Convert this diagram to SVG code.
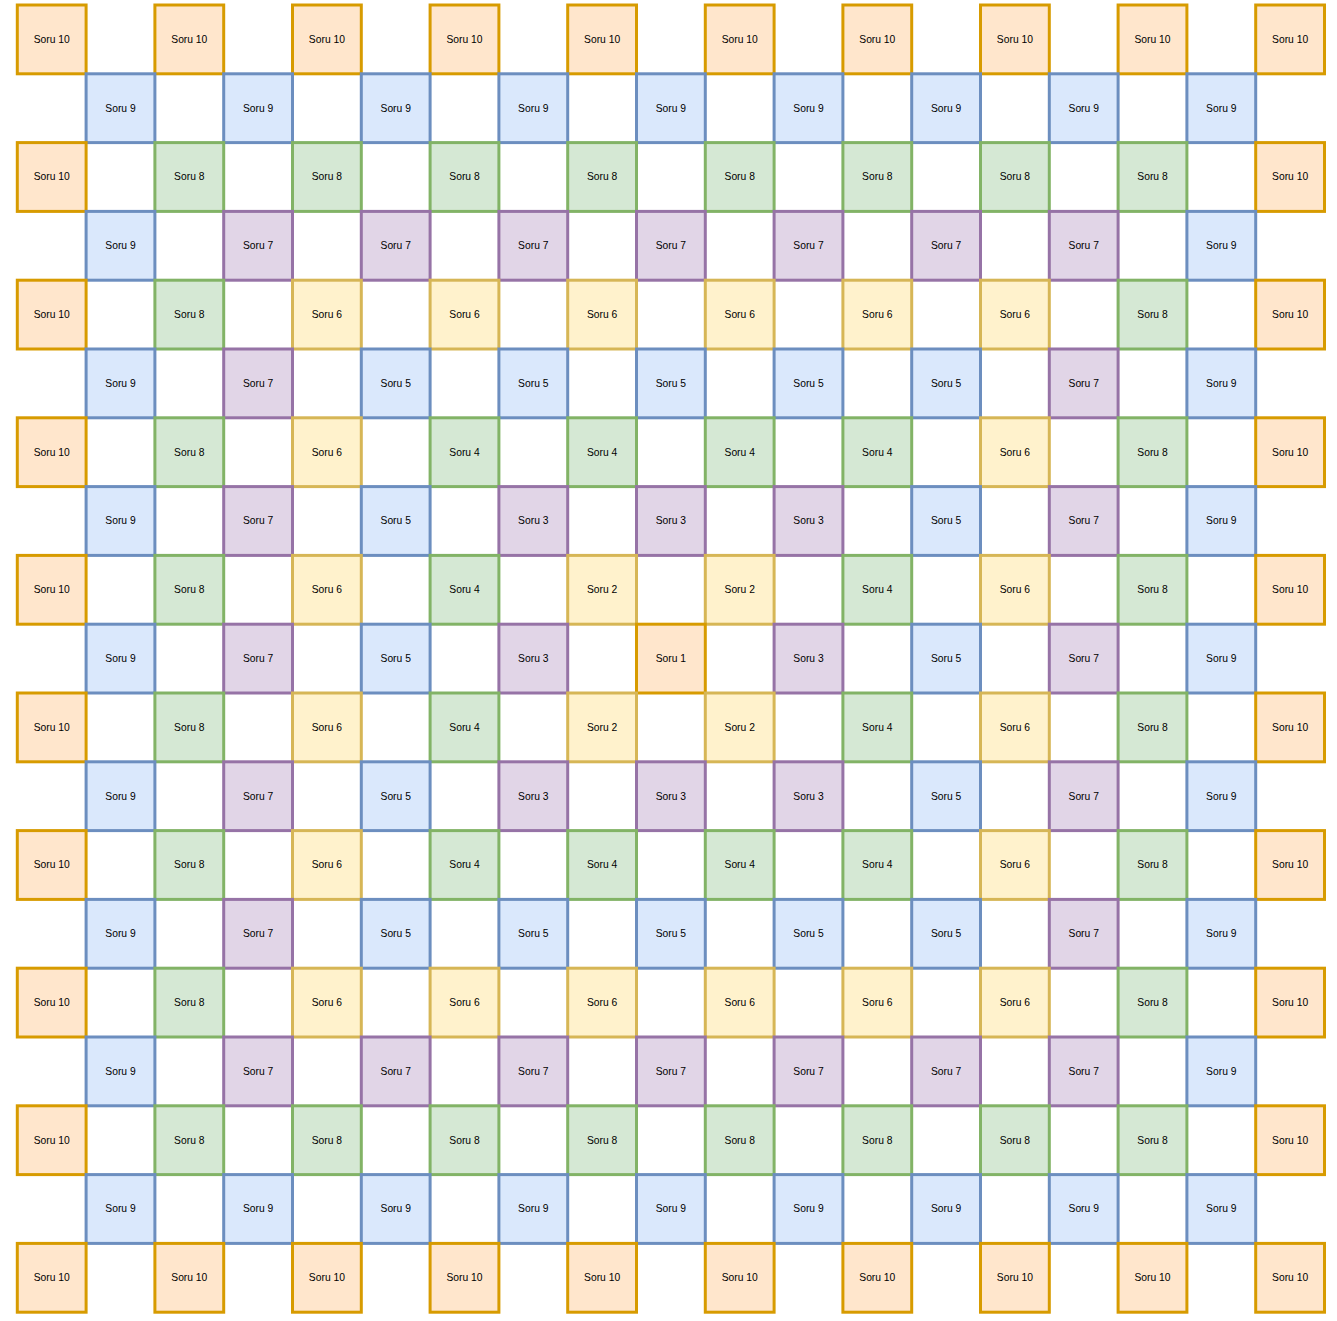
<svg xmlns="http://www.w3.org/2000/svg" width="1337" height="1321" viewBox="0 0 1337 1321">
<style>
rect{stroke-width:3}
.o{fill:#ffe6cc;stroke:#d79b00}
.b{fill:#dae8fc;stroke:#6c8ebf}
.g{fill:#d5e8d4;stroke:#82b366}
.p{fill:#e1d5e7;stroke:#9673a6}
.y{fill:#fff2cc;stroke:#d6b656}
text{font-family:"Liberation Sans",Arial,sans-serif;font-size:10.3px;fill:#000;text-anchor:middle;dominant-baseline:central}
</style>
<defs>
<rect id="c" width="68.8" height="68.8"/>
</defs>
<rect width="1337" height="1321" fill="#fff"/>
<g id="connectors"/>
<g id="nodes">
<!-- row 0 -->
<g id="n0-0" transform="translate(17.3,5)"><rect class="o" width="68.8" height="68.8"/><text x="34.4" y="34.4">Soru 10</text></g>
<g id="n0-2" transform="translate(154.9,5)"><rect class="o" width="68.8" height="68.8"/><text x="34.4" y="34.4">Soru 10</text></g>
<g id="n0-4" transform="translate(292.5,5)"><rect class="o" width="68.8" height="68.8"/><text x="34.4" y="34.4">Soru 10</text></g>
<g id="n0-6" transform="translate(430.1,5)"><rect class="o" width="68.8" height="68.8"/><text x="34.4" y="34.4">Soru 10</text></g>
<g id="n0-8" transform="translate(567.7,5)"><rect class="o" width="68.8" height="68.8"/><text x="34.4" y="34.4">Soru 10</text></g>
<g id="n0-10" transform="translate(705.3,5)"><rect class="o" width="68.8" height="68.8"/><text x="34.4" y="34.4">Soru 10</text></g>
<g id="n0-12" transform="translate(842.9,5)"><rect class="o" width="68.8" height="68.8"/><text x="34.4" y="34.4">Soru 10</text></g>
<g id="n0-14" transform="translate(980.5,5)"><rect class="o" width="68.8" height="68.8"/><text x="34.4" y="34.4">Soru 10</text></g>
<g id="n0-16" transform="translate(1118.1,5)"><rect class="o" width="68.8" height="68.8"/><text x="34.4" y="34.4">Soru 10</text></g>
<g id="n0-18" transform="translate(1255.7,5)"><rect class="o" width="68.8" height="68.8"/><text x="34.4" y="34.4">Soru 10</text></g>
<!-- row 1 -->
<g id="n1-1" transform="translate(86.1,73.8)"><rect class="b" width="68.8" height="68.8"/><text x="34.4" y="34.4">Soru 9</text></g>
<g id="n1-3" transform="translate(223.7,73.8)"><rect class="b" width="68.8" height="68.8"/><text x="34.4" y="34.4">Soru 9</text></g>
<g id="n1-5" transform="translate(361.3,73.8)"><rect class="b" width="68.8" height="68.8"/><text x="34.4" y="34.4">Soru 9</text></g>
<g id="n1-7" transform="translate(498.9,73.8)"><rect class="b" width="68.8" height="68.8"/><text x="34.4" y="34.4">Soru 9</text></g>
<g id="n1-9" transform="translate(636.5,73.8)"><rect class="b" width="68.8" height="68.8"/><text x="34.4" y="34.4">Soru 9</text></g>
<g id="n1-11" transform="translate(774.1,73.8)"><rect class="b" width="68.8" height="68.8"/><text x="34.4" y="34.4">Soru 9</text></g>
<g id="n1-13" transform="translate(911.7,73.8)"><rect class="b" width="68.8" height="68.8"/><text x="34.4" y="34.4">Soru 9</text></g>
<g id="n1-15" transform="translate(1049.3,73.8)"><rect class="b" width="68.8" height="68.8"/><text x="34.4" y="34.4">Soru 9</text></g>
<g id="n1-17" transform="translate(1186.9,73.8)"><rect class="b" width="68.8" height="68.8"/><text x="34.4" y="34.4">Soru 9</text></g>
<!-- row 2 -->
<g id="n2-0" transform="translate(17.3,142.6)"><rect class="o" width="68.8" height="68.8"/><text x="34.4" y="34.4">Soru 10</text></g>
<g id="n2-2" transform="translate(154.9,142.6)"><rect class="g" width="68.8" height="68.8"/><text x="34.4" y="34.4">Soru 8</text></g>
<g id="n2-4" transform="translate(292.5,142.6)"><rect class="g" width="68.8" height="68.8"/><text x="34.4" y="34.4">Soru 8</text></g>
<g id="n2-6" transform="translate(430.1,142.6)"><rect class="g" width="68.8" height="68.8"/><text x="34.4" y="34.4">Soru 8</text></g>
<g id="n2-8" transform="translate(567.7,142.6)"><rect class="g" width="68.8" height="68.8"/><text x="34.4" y="34.4">Soru 8</text></g>
<g id="n2-10" transform="translate(705.3,142.6)"><rect class="g" width="68.8" height="68.8"/><text x="34.4" y="34.4">Soru 8</text></g>
<g id="n2-12" transform="translate(842.9,142.6)"><rect class="g" width="68.8" height="68.8"/><text x="34.4" y="34.4">Soru 8</text></g>
<g id="n2-14" transform="translate(980.5,142.6)"><rect class="g" width="68.8" height="68.8"/><text x="34.4" y="34.4">Soru 8</text></g>
<g id="n2-16" transform="translate(1118.1,142.6)"><rect class="g" width="68.8" height="68.8"/><text x="34.4" y="34.4">Soru 8</text></g>
<g id="n2-18" transform="translate(1255.7,142.6)"><rect class="o" width="68.8" height="68.8"/><text x="34.4" y="34.4">Soru 10</text></g>
<!-- row 3 -->
<g id="n3-1" transform="translate(86.1,211.4)"><rect class="b" width="68.8" height="68.8"/><text x="34.4" y="34.4">Soru 9</text></g>
<g id="n3-3" transform="translate(223.7,211.4)"><rect class="p" width="68.8" height="68.8"/><text x="34.4" y="34.4">Soru 7</text></g>
<g id="n3-5" transform="translate(361.3,211.4)"><rect class="p" width="68.8" height="68.8"/><text x="34.4" y="34.4">Soru 7</text></g>
<g id="n3-7" transform="translate(498.9,211.4)"><rect class="p" width="68.8" height="68.8"/><text x="34.4" y="34.4">Soru 7</text></g>
<g id="n3-9" transform="translate(636.5,211.4)"><rect class="p" width="68.8" height="68.8"/><text x="34.4" y="34.4">Soru 7</text></g>
<g id="n3-11" transform="translate(774.1,211.4)"><rect class="p" width="68.8" height="68.8"/><text x="34.4" y="34.4">Soru 7</text></g>
<g id="n3-13" transform="translate(911.7,211.4)"><rect class="p" width="68.8" height="68.8"/><text x="34.4" y="34.4">Soru 7</text></g>
<g id="n3-15" transform="translate(1049.3,211.4)"><rect class="p" width="68.8" height="68.8"/><text x="34.4" y="34.4">Soru 7</text></g>
<g id="n3-17" transform="translate(1186.9,211.4)"><rect class="b" width="68.8" height="68.8"/><text x="34.4" y="34.4">Soru 9</text></g>
<!-- row 4 -->
<g id="n4-0" transform="translate(17.3,280.2)"><rect class="o" width="68.8" height="68.8"/><text x="34.4" y="34.4">Soru 10</text></g>
<g id="n4-2" transform="translate(154.9,280.2)"><rect class="g" width="68.8" height="68.8"/><text x="34.4" y="34.4">Soru 8</text></g>
<g id="n4-4" transform="translate(292.5,280.2)"><rect class="y" width="68.8" height="68.8"/><text x="34.4" y="34.4">Soru 6</text></g>
<g id="n4-6" transform="translate(430.1,280.2)"><rect class="y" width="68.8" height="68.8"/><text x="34.4" y="34.4">Soru 6</text></g>
<g id="n4-8" transform="translate(567.7,280.2)"><rect class="y" width="68.8" height="68.8"/><text x="34.4" y="34.4">Soru 6</text></g>
<g id="n4-10" transform="translate(705.3,280.2)"><rect class="y" width="68.8" height="68.8"/><text x="34.4" y="34.4">Soru 6</text></g>
<g id="n4-12" transform="translate(842.9,280.2)"><rect class="y" width="68.8" height="68.8"/><text x="34.4" y="34.4">Soru 6</text></g>
<g id="n4-14" transform="translate(980.5,280.2)"><rect class="y" width="68.8" height="68.8"/><text x="34.4" y="34.4">Soru 6</text></g>
<g id="n4-16" transform="translate(1118.1,280.2)"><rect class="g" width="68.8" height="68.8"/><text x="34.4" y="34.4">Soru 8</text></g>
<g id="n4-18" transform="translate(1255.7,280.2)"><rect class="o" width="68.8" height="68.8"/><text x="34.4" y="34.4">Soru 10</text></g>
<!-- row 5 -->
<g id="n5-1" transform="translate(86.1,349)"><rect class="b" width="68.8" height="68.8"/><text x="34.4" y="34.4">Soru 9</text></g>
<g id="n5-3" transform="translate(223.7,349)"><rect class="p" width="68.8" height="68.8"/><text x="34.4" y="34.4">Soru 7</text></g>
<g id="n5-5" transform="translate(361.3,349)"><rect class="b" width="68.8" height="68.8"/><text x="34.4" y="34.4">Soru 5</text></g>
<g id="n5-7" transform="translate(498.9,349)"><rect class="b" width="68.8" height="68.8"/><text x="34.4" y="34.4">Soru 5</text></g>
<g id="n5-9" transform="translate(636.5,349)"><rect class="b" width="68.8" height="68.8"/><text x="34.4" y="34.4">Soru 5</text></g>
<g id="n5-11" transform="translate(774.1,349)"><rect class="b" width="68.8" height="68.8"/><text x="34.4" y="34.4">Soru 5</text></g>
<g id="n5-13" transform="translate(911.7,349)"><rect class="b" width="68.8" height="68.8"/><text x="34.4" y="34.4">Soru 5</text></g>
<g id="n5-15" transform="translate(1049.3,349)"><rect class="p" width="68.8" height="68.8"/><text x="34.4" y="34.4">Soru 7</text></g>
<g id="n5-17" transform="translate(1186.9,349)"><rect class="b" width="68.8" height="68.8"/><text x="34.4" y="34.4">Soru 9</text></g>
<!-- row 6 -->
<g id="n6-0" transform="translate(17.3,417.8)"><rect class="o" width="68.8" height="68.8"/><text x="34.4" y="34.4">Soru 10</text></g>
<g id="n6-2" transform="translate(154.9,417.8)"><rect class="g" width="68.8" height="68.8"/><text x="34.4" y="34.4">Soru 8</text></g>
<g id="n6-4" transform="translate(292.5,417.8)"><rect class="y" width="68.8" height="68.8"/><text x="34.4" y="34.4">Soru 6</text></g>
<g id="n6-6" transform="translate(430.1,417.8)"><rect class="g" width="68.8" height="68.8"/><text x="34.4" y="34.4">Soru 4</text></g>
<g id="n6-8" transform="translate(567.7,417.8)"><rect class="g" width="68.8" height="68.8"/><text x="34.4" y="34.4">Soru 4</text></g>
<g id="n6-10" transform="translate(705.3,417.8)"><rect class="g" width="68.8" height="68.8"/><text x="34.4" y="34.4">Soru 4</text></g>
<g id="n6-12" transform="translate(842.9,417.8)"><rect class="g" width="68.8" height="68.8"/><text x="34.4" y="34.4">Soru 4</text></g>
<g id="n6-14" transform="translate(980.5,417.8)"><rect class="y" width="68.8" height="68.8"/><text x="34.4" y="34.4">Soru 6</text></g>
<g id="n6-16" transform="translate(1118.1,417.8)"><rect class="g" width="68.8" height="68.8"/><text x="34.4" y="34.4">Soru 8</text></g>
<g id="n6-18" transform="translate(1255.7,417.8)"><rect class="o" width="68.8" height="68.8"/><text x="34.4" y="34.4">Soru 10</text></g>
<!-- row 7 -->
<g id="n7-1" transform="translate(86.1,486.6)"><rect class="b" width="68.8" height="68.8"/><text x="34.4" y="34.4">Soru 9</text></g>
<g id="n7-3" transform="translate(223.7,486.6)"><rect class="p" width="68.8" height="68.8"/><text x="34.4" y="34.4">Soru 7</text></g>
<g id="n7-5" transform="translate(361.3,486.6)"><rect class="b" width="68.8" height="68.8"/><text x="34.4" y="34.4">Soru 5</text></g>
<g id="n7-7" transform="translate(498.9,486.6)"><rect class="p" width="68.8" height="68.8"/><text x="34.4" y="34.4">Soru 3</text></g>
<g id="n7-9" transform="translate(636.5,486.6)"><rect class="p" width="68.8" height="68.8"/><text x="34.4" y="34.4">Soru 3</text></g>
<g id="n7-11" transform="translate(774.1,486.6)"><rect class="p" width="68.8" height="68.8"/><text x="34.4" y="34.4">Soru 3</text></g>
<g id="n7-13" transform="translate(911.7,486.6)"><rect class="b" width="68.8" height="68.8"/><text x="34.4" y="34.4">Soru 5</text></g>
<g id="n7-15" transform="translate(1049.3,486.6)"><rect class="p" width="68.8" height="68.8"/><text x="34.4" y="34.4">Soru 7</text></g>
<g id="n7-17" transform="translate(1186.9,486.6)"><rect class="b" width="68.8" height="68.8"/><text x="34.4" y="34.4">Soru 9</text></g>
<!-- row 8 -->
<g id="n8-0" transform="translate(17.3,555.4)"><rect class="o" width="68.8" height="68.8"/><text x="34.4" y="34.4">Soru 10</text></g>
<g id="n8-2" transform="translate(154.9,555.4)"><rect class="g" width="68.8" height="68.8"/><text x="34.4" y="34.4">Soru 8</text></g>
<g id="n8-4" transform="translate(292.5,555.4)"><rect class="y" width="68.8" height="68.8"/><text x="34.4" y="34.4">Soru 6</text></g>
<g id="n8-6" transform="translate(430.1,555.4)"><rect class="g" width="68.8" height="68.8"/><text x="34.4" y="34.4">Soru 4</text></g>
<g id="n8-8" transform="translate(567.7,555.4)"><rect class="y" width="68.8" height="68.8"/><text x="34.4" y="34.4">Soru 2</text></g>
<g id="n8-10" transform="translate(705.3,555.4)"><rect class="y" width="68.8" height="68.8"/><text x="34.4" y="34.4">Soru 2</text></g>
<g id="n8-12" transform="translate(842.9,555.4)"><rect class="g" width="68.8" height="68.8"/><text x="34.4" y="34.4">Soru 4</text></g>
<g id="n8-14" transform="translate(980.5,555.4)"><rect class="y" width="68.8" height="68.8"/><text x="34.4" y="34.4">Soru 6</text></g>
<g id="n8-16" transform="translate(1118.1,555.4)"><rect class="g" width="68.8" height="68.8"/><text x="34.4" y="34.4">Soru 8</text></g>
<g id="n8-18" transform="translate(1255.7,555.4)"><rect class="o" width="68.8" height="68.8"/><text x="34.4" y="34.4">Soru 10</text></g>
<!-- row 9 -->
<g id="n9-1" transform="translate(86.1,624.2)"><rect class="b" width="68.8" height="68.8"/><text x="34.4" y="34.4">Soru 9</text></g>
<g id="n9-3" transform="translate(223.7,624.2)"><rect class="p" width="68.8" height="68.8"/><text x="34.4" y="34.4">Soru 7</text></g>
<g id="n9-5" transform="translate(361.3,624.2)"><rect class="b" width="68.8" height="68.8"/><text x="34.4" y="34.4">Soru 5</text></g>
<g id="n9-7" transform="translate(498.9,624.2)"><rect class="p" width="68.8" height="68.8"/><text x="34.4" y="34.4">Soru 3</text></g>
<g id="n9-9" transform="translate(636.5,624.2)"><rect class="o" width="68.8" height="68.8"/><text x="34.4" y="34.4">Soru 1</text></g>
<g id="n9-11" transform="translate(774.1,624.2)"><rect class="p" width="68.8" height="68.8"/><text x="34.4" y="34.4">Soru 3</text></g>
<g id="n9-13" transform="translate(911.7,624.2)"><rect class="b" width="68.8" height="68.8"/><text x="34.4" y="34.4">Soru 5</text></g>
<g id="n9-15" transform="translate(1049.3,624.2)"><rect class="p" width="68.8" height="68.8"/><text x="34.4" y="34.4">Soru 7</text></g>
<g id="n9-17" transform="translate(1186.9,624.2)"><rect class="b" width="68.8" height="68.8"/><text x="34.4" y="34.4">Soru 9</text></g>
<!-- row 10 -->
<g id="n10-0" transform="translate(17.3,693)"><rect class="o" width="68.8" height="68.8"/><text x="34.4" y="34.4">Soru 10</text></g>
<g id="n10-2" transform="translate(154.9,693)"><rect class="g" width="68.8" height="68.8"/><text x="34.4" y="34.4">Soru 8</text></g>
<g id="n10-4" transform="translate(292.5,693)"><rect class="y" width="68.8" height="68.8"/><text x="34.4" y="34.4">Soru 6</text></g>
<g id="n10-6" transform="translate(430.1,693)"><rect class="g" width="68.8" height="68.8"/><text x="34.4" y="34.4">Soru 4</text></g>
<g id="n10-8" transform="translate(567.7,693)"><rect class="y" width="68.8" height="68.8"/><text x="34.4" y="34.4">Soru 2</text></g>
<g id="n10-10" transform="translate(705.3,693)"><rect class="y" width="68.8" height="68.8"/><text x="34.4" y="34.4">Soru 2</text></g>
<g id="n10-12" transform="translate(842.9,693)"><rect class="g" width="68.8" height="68.8"/><text x="34.4" y="34.4">Soru 4</text></g>
<g id="n10-14" transform="translate(980.5,693)"><rect class="y" width="68.8" height="68.8"/><text x="34.4" y="34.4">Soru 6</text></g>
<g id="n10-16" transform="translate(1118.1,693)"><rect class="g" width="68.8" height="68.8"/><text x="34.4" y="34.4">Soru 8</text></g>
<g id="n10-18" transform="translate(1255.7,693)"><rect class="o" width="68.8" height="68.8"/><text x="34.4" y="34.4">Soru 10</text></g>
<!-- row 11 -->
<g id="n11-1" transform="translate(86.1,761.8)"><rect class="b" width="68.8" height="68.8"/><text x="34.4" y="34.4">Soru 9</text></g>
<g id="n11-3" transform="translate(223.7,761.8)"><rect class="p" width="68.8" height="68.8"/><text x="34.4" y="34.4">Soru 7</text></g>
<g id="n11-5" transform="translate(361.3,761.8)"><rect class="b" width="68.8" height="68.8"/><text x="34.4" y="34.4">Soru 5</text></g>
<g id="n11-7" transform="translate(498.9,761.8)"><rect class="p" width="68.8" height="68.8"/><text x="34.4" y="34.4">Soru 3</text></g>
<g id="n11-9" transform="translate(636.5,761.8)"><rect class="p" width="68.8" height="68.8"/><text x="34.4" y="34.4">Soru 3</text></g>
<g id="n11-11" transform="translate(774.1,761.8)"><rect class="p" width="68.8" height="68.8"/><text x="34.4" y="34.4">Soru 3</text></g>
<g id="n11-13" transform="translate(911.7,761.8)"><rect class="b" width="68.8" height="68.8"/><text x="34.4" y="34.4">Soru 5</text></g>
<g id="n11-15" transform="translate(1049.3,761.8)"><rect class="p" width="68.8" height="68.8"/><text x="34.4" y="34.4">Soru 7</text></g>
<g id="n11-17" transform="translate(1186.9,761.8)"><rect class="b" width="68.8" height="68.8"/><text x="34.4" y="34.4">Soru 9</text></g>
<!-- row 12 -->
<g id="n12-0" transform="translate(17.3,830.6)"><rect class="o" width="68.8" height="68.8"/><text x="34.4" y="34.4">Soru 10</text></g>
<g id="n12-2" transform="translate(154.9,830.6)"><rect class="g" width="68.8" height="68.8"/><text x="34.4" y="34.4">Soru 8</text></g>
<g id="n12-4" transform="translate(292.5,830.6)"><rect class="y" width="68.8" height="68.8"/><text x="34.4" y="34.4">Soru 6</text></g>
<g id="n12-6" transform="translate(430.1,830.6)"><rect class="g" width="68.8" height="68.8"/><text x="34.4" y="34.4">Soru 4</text></g>
<g id="n12-8" transform="translate(567.7,830.6)"><rect class="g" width="68.8" height="68.8"/><text x="34.4" y="34.4">Soru 4</text></g>
<g id="n12-10" transform="translate(705.3,830.6)"><rect class="g" width="68.8" height="68.8"/><text x="34.4" y="34.4">Soru 4</text></g>
<g id="n12-12" transform="translate(842.9,830.6)"><rect class="g" width="68.8" height="68.8"/><text x="34.4" y="34.4">Soru 4</text></g>
<g id="n12-14" transform="translate(980.5,830.6)"><rect class="y" width="68.8" height="68.8"/><text x="34.4" y="34.4">Soru 6</text></g>
<g id="n12-16" transform="translate(1118.1,830.6)"><rect class="g" width="68.8" height="68.8"/><text x="34.4" y="34.4">Soru 8</text></g>
<g id="n12-18" transform="translate(1255.7,830.6)"><rect class="o" width="68.8" height="68.8"/><text x="34.4" y="34.4">Soru 10</text></g>
<!-- row 13 -->
<g id="n13-1" transform="translate(86.1,899.4)"><rect class="b" width="68.8" height="68.8"/><text x="34.4" y="34.4">Soru 9</text></g>
<g id="n13-3" transform="translate(223.7,899.4)"><rect class="p" width="68.8" height="68.8"/><text x="34.4" y="34.4">Soru 7</text></g>
<g id="n13-5" transform="translate(361.3,899.4)"><rect class="b" width="68.8" height="68.8"/><text x="34.4" y="34.4">Soru 5</text></g>
<g id="n13-7" transform="translate(498.9,899.4)"><rect class="b" width="68.8" height="68.8"/><text x="34.4" y="34.4">Soru 5</text></g>
<g id="n13-9" transform="translate(636.5,899.4)"><rect class="b" width="68.8" height="68.8"/><text x="34.4" y="34.4">Soru 5</text></g>
<g id="n13-11" transform="translate(774.1,899.4)"><rect class="b" width="68.8" height="68.8"/><text x="34.4" y="34.4">Soru 5</text></g>
<g id="n13-13" transform="translate(911.7,899.4)"><rect class="b" width="68.8" height="68.8"/><text x="34.4" y="34.4">Soru 5</text></g>
<g id="n13-15" transform="translate(1049.3,899.4)"><rect class="p" width="68.8" height="68.8"/><text x="34.4" y="34.4">Soru 7</text></g>
<g id="n13-17" transform="translate(1186.9,899.4)"><rect class="b" width="68.8" height="68.8"/><text x="34.4" y="34.4">Soru 9</text></g>
<!-- row 14 -->
<g id="n14-0" transform="translate(17.3,968.2)"><rect class="o" width="68.8" height="68.8"/><text x="34.4" y="34.4">Soru 10</text></g>
<g id="n14-2" transform="translate(154.9,968.2)"><rect class="g" width="68.8" height="68.8"/><text x="34.4" y="34.4">Soru 8</text></g>
<g id="n14-4" transform="translate(292.5,968.2)"><rect class="y" width="68.8" height="68.8"/><text x="34.4" y="34.4">Soru 6</text></g>
<g id="n14-6" transform="translate(430.1,968.2)"><rect class="y" width="68.8" height="68.8"/><text x="34.4" y="34.4">Soru 6</text></g>
<g id="n14-8" transform="translate(567.7,968.2)"><rect class="y" width="68.8" height="68.8"/><text x="34.4" y="34.4">Soru 6</text></g>
<g id="n14-10" transform="translate(705.3,968.2)"><rect class="y" width="68.8" height="68.8"/><text x="34.4" y="34.4">Soru 6</text></g>
<g id="n14-12" transform="translate(842.9,968.2)"><rect class="y" width="68.8" height="68.8"/><text x="34.4" y="34.4">Soru 6</text></g>
<g id="n14-14" transform="translate(980.5,968.2)"><rect class="y" width="68.8" height="68.8"/><text x="34.4" y="34.4">Soru 6</text></g>
<g id="n14-16" transform="translate(1118.1,968.2)"><rect class="g" width="68.8" height="68.8"/><text x="34.4" y="34.4">Soru 8</text></g>
<g id="n14-18" transform="translate(1255.7,968.2)"><rect class="o" width="68.8" height="68.8"/><text x="34.4" y="34.4">Soru 10</text></g>
<!-- row 15 -->
<g id="n15-1" transform="translate(86.1,1037)"><rect class="b" width="68.8" height="68.8"/><text x="34.4" y="34.4">Soru 9</text></g>
<g id="n15-3" transform="translate(223.7,1037)"><rect class="p" width="68.8" height="68.8"/><text x="34.4" y="34.4">Soru 7</text></g>
<g id="n15-5" transform="translate(361.3,1037)"><rect class="p" width="68.8" height="68.8"/><text x="34.4" y="34.4">Soru 7</text></g>
<g id="n15-7" transform="translate(498.9,1037)"><rect class="p" width="68.8" height="68.8"/><text x="34.4" y="34.4">Soru 7</text></g>
<g id="n15-9" transform="translate(636.5,1037)"><rect class="p" width="68.8" height="68.8"/><text x="34.4" y="34.4">Soru 7</text></g>
<g id="n15-11" transform="translate(774.1,1037)"><rect class="p" width="68.8" height="68.8"/><text x="34.4" y="34.4">Soru 7</text></g>
<g id="n15-13" transform="translate(911.7,1037)"><rect class="p" width="68.8" height="68.8"/><text x="34.4" y="34.4">Soru 7</text></g>
<g id="n15-15" transform="translate(1049.3,1037)"><rect class="p" width="68.8" height="68.8"/><text x="34.4" y="34.4">Soru 7</text></g>
<g id="n15-17" transform="translate(1186.9,1037)"><rect class="b" width="68.8" height="68.8"/><text x="34.4" y="34.4">Soru 9</text></g>
<!-- row 16 -->
<g id="n16-0" transform="translate(17.3,1105.8)"><rect class="o" width="68.8" height="68.8"/><text x="34.4" y="34.4">Soru 10</text></g>
<g id="n16-2" transform="translate(154.9,1105.8)"><rect class="g" width="68.8" height="68.8"/><text x="34.4" y="34.4">Soru 8</text></g>
<g id="n16-4" transform="translate(292.5,1105.8)"><rect class="g" width="68.8" height="68.8"/><text x="34.4" y="34.4">Soru 8</text></g>
<g id="n16-6" transform="translate(430.1,1105.8)"><rect class="g" width="68.8" height="68.8"/><text x="34.4" y="34.4">Soru 8</text></g>
<g id="n16-8" transform="translate(567.7,1105.8)"><rect class="g" width="68.8" height="68.8"/><text x="34.4" y="34.4">Soru 8</text></g>
<g id="n16-10" transform="translate(705.3,1105.8)"><rect class="g" width="68.8" height="68.8"/><text x="34.4" y="34.4">Soru 8</text></g>
<g id="n16-12" transform="translate(842.9,1105.8)"><rect class="g" width="68.8" height="68.8"/><text x="34.4" y="34.4">Soru 8</text></g>
<g id="n16-14" transform="translate(980.5,1105.8)"><rect class="g" width="68.8" height="68.8"/><text x="34.4" y="34.4">Soru 8</text></g>
<g id="n16-16" transform="translate(1118.1,1105.8)"><rect class="g" width="68.8" height="68.8"/><text x="34.4" y="34.4">Soru 8</text></g>
<g id="n16-18" transform="translate(1255.7,1105.8)"><rect class="o" width="68.8" height="68.8"/><text x="34.4" y="34.4">Soru 10</text></g>
<!-- row 17 -->
<g id="n17-1" transform="translate(86.1,1174.6)"><rect class="b" width="68.8" height="68.8"/><text x="34.4" y="34.4">Soru 9</text></g>
<g id="n17-3" transform="translate(223.7,1174.6)"><rect class="b" width="68.8" height="68.8"/><text x="34.4" y="34.4">Soru 9</text></g>
<g id="n17-5" transform="translate(361.3,1174.6)"><rect class="b" width="68.8" height="68.8"/><text x="34.4" y="34.4">Soru 9</text></g>
<g id="n17-7" transform="translate(498.9,1174.6)"><rect class="b" width="68.8" height="68.8"/><text x="34.4" y="34.4">Soru 9</text></g>
<g id="n17-9" transform="translate(636.5,1174.6)"><rect class="b" width="68.8" height="68.8"/><text x="34.4" y="34.4">Soru 9</text></g>
<g id="n17-11" transform="translate(774.1,1174.6)"><rect class="b" width="68.8" height="68.8"/><text x="34.4" y="34.4">Soru 9</text></g>
<g id="n17-13" transform="translate(911.7,1174.6)"><rect class="b" width="68.8" height="68.8"/><text x="34.4" y="34.4">Soru 9</text></g>
<g id="n17-15" transform="translate(1049.3,1174.6)"><rect class="b" width="68.8" height="68.8"/><text x="34.4" y="34.4">Soru 9</text></g>
<g id="n17-17" transform="translate(1186.9,1174.6)"><rect class="b" width="68.8" height="68.8"/><text x="34.4" y="34.4">Soru 9</text></g>
<!-- row 18 -->
<g id="n18-0" transform="translate(17.3,1243.4)"><rect class="o" width="68.8" height="68.8"/><text x="34.4" y="34.4">Soru 10</text></g>
<g id="n18-2" transform="translate(154.9,1243.4)"><rect class="o" width="68.8" height="68.8"/><text x="34.4" y="34.4">Soru 10</text></g>
<g id="n18-4" transform="translate(292.5,1243.4)"><rect class="o" width="68.8" height="68.8"/><text x="34.4" y="34.4">Soru 10</text></g>
<g id="n18-6" transform="translate(430.1,1243.4)"><rect class="o" width="68.8" height="68.8"/><text x="34.4" y="34.4">Soru 10</text></g>
<g id="n18-8" transform="translate(567.7,1243.4)"><rect class="o" width="68.8" height="68.8"/><text x="34.4" y="34.4">Soru 10</text></g>
<g id="n18-10" transform="translate(705.3,1243.4)"><rect class="o" width="68.8" height="68.8"/><text x="34.4" y="34.4">Soru 10</text></g>
<g id="n18-12" transform="translate(842.9,1243.4)"><rect class="o" width="68.8" height="68.8"/><text x="34.4" y="34.4">Soru 10</text></g>
<g id="n18-14" transform="translate(980.5,1243.4)"><rect class="o" width="68.8" height="68.8"/><text x="34.4" y="34.4">Soru 10</text></g>
<g id="n18-16" transform="translate(1118.1,1243.4)"><rect class="o" width="68.8" height="68.8"/><text x="34.4" y="34.4">Soru 10</text></g>
<g id="n18-18" transform="translate(1255.7,1243.4)"><rect class="o" width="68.8" height="68.8"/><text x="34.4" y="34.4">Soru 10</text></g>
</g>
</svg>
